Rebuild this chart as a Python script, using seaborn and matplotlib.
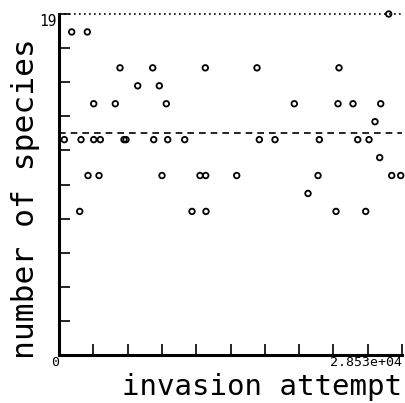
import numpy as np
import pandas as pd
import matplotlib
matplotlib.use("Agg")
import matplotlib.pyplot as plt
import seaborn as sns

attempt = [441, 1056, 1722, 1830, 2354, 2412, 2886, 2886, 3327, 3435,
           4683, 5074, 5407, 5573, 6546, 7794, 7877, 8343, 8568, 8925,
           9042, 10456, 11063, 11728, 12169, 12202, 12227, 14781, 16470, 16661,
           17967, 19572, 20712, 21544, 21652, 23041, 23207, 23290, 24455, 24846,
           25511, 25786, 26285, 26676, 26759, 27424, 27674, 28423]
species = [12, 18, 8, 12, 18, 10, 14, 12, 10, 12,
           14, 16, 12, 12, 15, 16, 12, 15, 10, 14,
           12, 12, 8, 10, 16, 10, 8, 10, 16, 12,
           12, 14, 9, 10, 12, 8, 14, 16, 14, 12,
           8, 12, 13, 11, 14, 19, 10, 10]

x_max = 28530
y_max = 19
x_tick_labels = ["0", "2.853e+04"]
y_tick_label = "19"

df = pd.DataFrame({"attempt": attempt, "species": species})

sns.set_style("white")
plt.rcParams["font.family"] = ["DejaVu Sans Mono", "DejaVu Sans"]

fig = plt.figure(figsize=(4.05, 4.03), dpi=100)
ax = fig.add_axes([59 / 405, 48 / 403, 343 / 405, 341 / 403])

sns.scatterplot(data=df, x="attempt", y="species", ax=ax, marker="o",
                s=16, facecolor="none", edgecolor="black", linewidth=1.3,
                clip_on=False, zorder=3)

ax.axhline(df["species"].mean(), color="black", lw=1.2, ls=(0, (4, 3)))
ax.axhline(df["species"].max(), color="black", lw=1.2, ls=(0, (1, 2)), clip_on=False)

ax.set_xlim(0, x_max)
ax.set_ylim(0, y_max)

xt = np.linspace(0, x_max, 11)
yt = np.linspace(0, y_max, 11)
ax.set_xticks(xt)
ax.set_xticklabels([x_tick_labels[0]] + [""] * 9 + [x_tick_labels[1]], fontsize=9.5)
ax.set_yticks(yt)
ax.set_yticklabels([""] * 10 + [y_tick_label], fontsize=10.5)
ax.tick_params(axis="both", direction="in", length=8, width=1.2, color="black",
               pad=2, labelcolor="black", bottom=True, left=True)
ax.tick_params(axis="x", pad=0.5)
xl = ax.get_xticklabels()
xl[0].set_ha("right")
xl[-1].set_ha("right")
ax.get_yticklabels()[-1].set_va("top")

for s in ["top", "right"]:
    ax.spines[s].set_visible(False)
for s in ["left", "bottom"]:
    ax.spines[s].set_linewidth(2.2)
    ax.spines[s].set_color("black")

ax.set_xlabel("invasion attempt", fontsize=21, ha="right", color="black")
ax.xaxis.set_label_coords(1.0, -0.117)
ax.xaxis.label.set_va("baseline")
ax.set_ylabel("number of species", fontsize=22.5, color="black")
ax.yaxis.set_label_coords(-0.055, 0.46)

fig.savefig("out.png", dpi=100)
